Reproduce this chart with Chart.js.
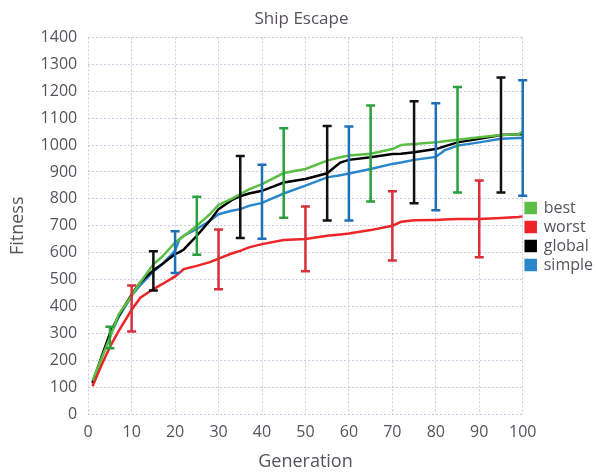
<!DOCTYPE html>
<html>
<head>
<meta charset="utf-8">
<script src="https://cdn.jsdelivr.net/npm/chart.js@4"></script>
<style>
  html, body { margin: 0; padding: 0; background: #fff; }
  #wrap { width: 596px; height: 473px; }
</style>
</head>
<body>
<div id="wrap"><canvas id="shipEscape"></canvas></div>
<script>
const generations = [1, 3, 5, 7, 10, 12, 15, 17, 20, 21, 22, 25, 28, 30, 33, 35, 37, 40, 45, 50, 55, 58, 60, 65, 70, 72, 75, 80, 82, 85, 90, 95, 99, 100];

const best   = [125, 205, 285, 370, 440, 490, 557, 585, 638, 650, 662, 700, 743, 778, 800, 818, 835, 855, 896, 911, 942, 955, 961, 968, 985, 1000, 1004, 1010, 1014, 1020, 1029, 1037, 1040, 1050];
const worst  = [104, 180, 250, 309, 388, 433, 465, 483, 512, 525, 539, 551, 565, 578, 597, 607, 620, 632, 647, 651, 663, 668, 671, 684, 700, 715, 721, 722, 723, 725, 725, 729, 733, 735];
const global = [115, 210, 300, 365, 445, 490, 535, 557, 595, 602, 612, 663, 719, 762, 795, 810, 820, 830, 861, 874, 895, 935, 945, 955, 967, 968, 973, 985, 995, 1010, 1023, 1037, 1040, 1040];
const simple = [120, 205, 290, 360, 440, 480, 530, 557, 608, 650, 663, 688, 719, 743, 756, 762, 774, 785, 820, 849, 880, 888, 894, 911, 930, 935, 945, 956, 980, 998, 1010, 1023, 1026, 1026];

// error bars (low / high) every 20 generations, offset per series
const bestErrGen = [5, 25, 45, 65, 85];
const bestErrLow = [245, 592, 730, 790, 824];
const bestErrHigh = [325, 808, 1062, 1147, 1216];

const worstErrGen = [10, 30, 50, 70, 90];
const worstErrLow = [307, 464, 531, 571, 583];
const worstErrHigh = [478, 686, 772, 828, 868];

const globalErrGen = [15, 35, 55, 75, 95];
const globalErrLow = [460, 655, 720, 784, 824];
const globalErrHigh = [605, 959, 1071, 1163, 1251];

const simpleErrGen = [20, 40, 60, 80, 100];
const simpleErrLow = [525, 652, 720, 758, 812];
const simpleErrHigh = [680, 927, 1069, 1155, 1241];

const toPoints = (ys) => generations.map((g, i) => ({ x: g, y: ys[i] }));

const errorBars = [
  { gen: bestErrGen, low: bestErrLow, high: bestErrHigh, color: "#2a9f3c" },
  { gen: worstErrGen, low: worstErrLow, high: worstErrHigh, color: "#d8303a" },
  { gen: globalErrGen, low: globalErrLow, high: globalErrHigh, color: "#111111" },
  { gen: simpleErrGen, low: simpleErrLow, high: simpleErrHigh, color: "#1f6fb6" },
];

const errorBarPlugin = {
  id: "errorBars",
  afterDatasetsDraw(chart) {
    const ctx = chart.ctx;
    const xs = chart.scales.x;
    const ys = chart.scales.y;
    ctx.save();
    ctx.lineWidth = 2.5;
    errorBars.forEach((eb) => {
      ctx.strokeStyle = eb.color;
      eb.gen.forEach((g, i) => {
        let px = xs.getPixelForValue(g);
        let top = ys.getPixelForValue(eb.high[i]);
        let bot = ys.getPixelForValue(eb.low[i]);
        ctx.beginPath();
        ctx.moveTo(px, top);
        ctx.lineTo(px, bot);
        ctx.moveTo(px - 4.5, top);
        ctx.lineTo(px + 4.5, top);
        ctx.moveTo(px - 4.5, bot);
        ctx.lineTo(px + 4.5, bot);
        ctx.stroke();
      });
    });
    ctx.restore();
  },
};

const textColor = "#57525c";
const gridColor = "#cccae2";

let ctx = document.getElementById("shipEscape").getContext("2d");
new Chart(ctx, {
  type: "line",
  data: {
    datasets: [
      { label: "best", data: toPoints(best), borderColor: "#5cbf45", backgroundColor: "#5cbf45" },
      { label: "worst", data: toPoints(worst), borderColor: "#ee2526", backgroundColor: "#ee2526" },
      { label: "global", data: toPoints(global), borderColor: "#000000", backgroundColor: "#000000" },
      { label: "simple", data: toPoints(simple), borderColor: "#2b87cc", backgroundColor: "#2b87cc" },
    ],
  },
  plugins: [errorBarPlugin],
  options: {
    responsive: true,
    maintainAspectRatio: false,
    animation: false,
    elements: {
      line: { borderWidth: 2.5, tension: 0 },
      point: { radius: 0 },
    },
    layout: { padding: { left: 0, right: -7, top: 0, bottom: 0 } },
    plugins: {
      title: {
        display: true,
        text: "Ship Escape",
        color: textColor,
        font: { family: "Open Sans", size: 17, weight: "normal" },
        padding: { top: 9, bottom: 8 },
      },
      legend: {
        position: "right",
        labels: {
          color: textColor,
          font: { family: "Open Sans", size: 16 },
          boxWidth: 10,
          boxHeight: 10,
          padding: 3,
        },
      },
      tooltip: { enabled: false },
    },
    scales: {
      x: {
        type: "linear",
        min: 0,
        max: 100,
        ticks: { stepSize: 10, maxRotation: 0, color: textColor, font: { family: "Open Sans", size: 16 }, padding: 9 },
        grid: { color: gridColor, tickLength: 0 },
        border: { display: false, dash: [2, 2] },
        title: {
          display: true,
          text: "Generation",
          color: textColor,
          font: { family: "Open Sans", size: 18 },
          padding: { top: 0, bottom: 0 },
        },
      },
      y: {
        min: 0,
        max: 1400,
        ticks: {
          stepSize: 100,
          color: textColor,
          font: { family: "Open Sans", size: 16 },
          padding: 11,
          callback: (v) => String(v),
        },
        grid: { color: gridColor, tickLength: 0 },
        border: { display: false, dash: [2, 2] },
        title: {
          display: true,
          text: "Fitness",
          color: textColor,
          font: { family: "Open Sans", size: 18 },
          padding: { top: 7, bottom: 1 },
        },
      },
    },
  },
});
</script>
</body>
</html>
